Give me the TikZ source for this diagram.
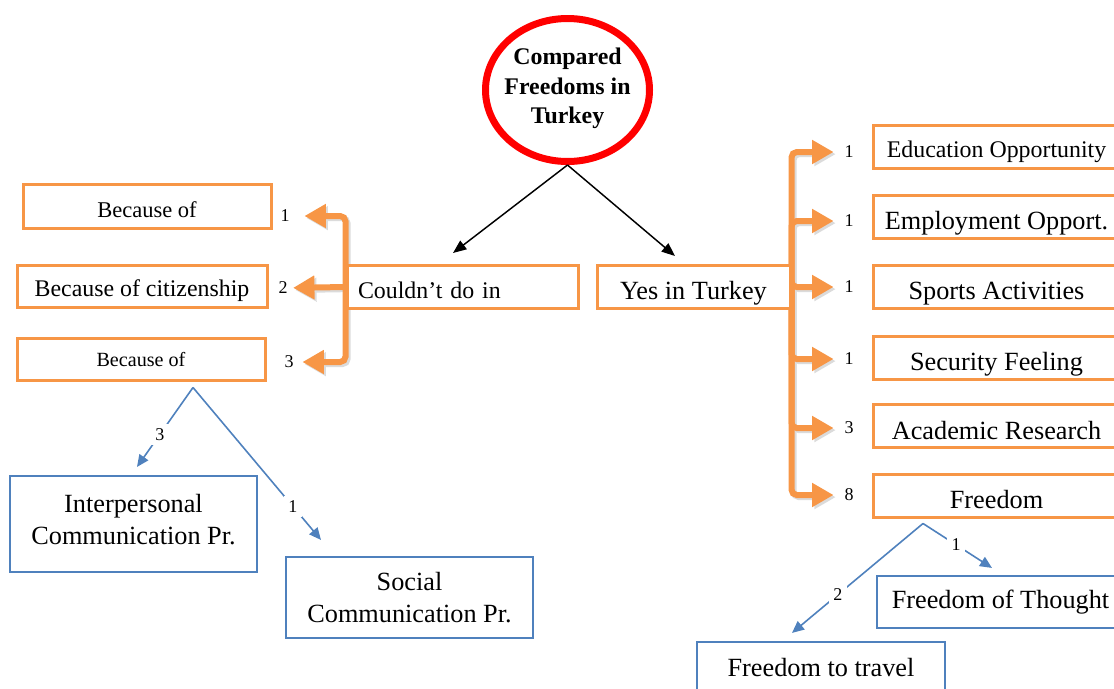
\documentclass[tikz,border=0pt]{standalone}
\usepackage{fontspec}
\setmainfont{Liberation Serif}
\usepackage{xcolor}
\usetikzlibrary{arrows.meta,shapes.geometric,backgrounds}
\definecolor{boxorange}{RGB}{247,150,70}
\definecolor{boxblue}{RGB}{79,129,189}
\definecolor{ringred}{RGB}{255,0,0}
\newcommand{\txtL}{\fontsize{19.7}{24}\selectfont}
\newcommand{\txtM}{\fontsize{17.9}{22}\selectfont}
\newcommand{\txtS}{\fontsize{16.9}{20}\selectfont}
\newcommand{\txtXS}{\fontsize{15.1}{18}\selectfont}
\newcommand{\txtN}{\fontsize{13.5}{16}\selectfont}

\begin{document}
\begin{tikzpicture}[x=0.75pt,y=-0.75pt,
  ring/.style={draw=ringred,line width=5.25pt,ellipse,minimum width=123pt,minimum height=107.25pt,inner sep=0pt},
  obox/.style={draw=boxorange,line width=2.25pt,fill=white,minimum height=32.25pt,inner sep=0pt,text height=#1,text depth=0pt},
  obox/.default=19pt,
  bbox/.style={draw=boxblue,line width=1.6pt,fill=white,align=center,inner sep=0pt,font=\txtL},
  cnt/.style={inner sep=0pt,font=\txtN},
  fat/.style={line width=4.5pt,rounded corners=4pt,-{Triangle[length=16pt,width=17pt]}},
  blk/.style={draw=black,line width=1.1pt,-{Triangle[length=10pt,width=8pt]}},
  blu/.style={draw=boxblue,line width=1.2pt,-{Triangle[length=9pt,width=8pt]}},
  blbl/.style={fill=white,inner sep=3.5pt,font=\txtN}]
  \useasboundingbox (0,0) rectangle (1114,689);
  \clip (0,0) rectangle (1114,689);
  % title ring
  \node[ring] (title) at (567.5,90) {};
  \node[align=center,inner sep=0pt,font=\bfseries\txtM] (titletxt) at (567.5,88.5) {Compared\\Freedoms in\\Turkey};
  % middle boxes
  \node[obox=16.5pt,minimum width=173.25pt,text width=156.75pt,inner xsep=8.25pt,align=left,font=\txtM] (cdi) at (462.5,287) {Couldn't do in};
  \node[obox,minimum width=144.75pt,font=\txtL] (yes) at (693.5,287) {Yes in Turkey};
  % left boxes
  \node[obox=17pt,minimum width=186pt,minimum height=33pt,font=\txtS] (b1) at (147,206) {Because of};
  \node[obox=15pt,minimum width=187.5pt,minimum height=31.5pt,font=\txtM] (b2) at (142,286) {Because of citizenship};
  \node[obox=11.5pt,minimum width=186pt,minimum height=31.5pt,font=\txtXS] (b3) at (141,359) {Because of};
  \node[cnt] (k1) at (285,216) {1};
  \node[cnt] (k2) at (283,288) {2};
  \node[cnt] (k3) at (289,362) {3};
  % right boxes
  \node[obox=17pt,minimum width=185.25pt,font=\txtM] (e1) at (996.5,146.5) {Education Opportunity};
  \node[obox,minimum width=185.25pt,font=\txtL] (e2) at (996.5,217) {Employment Opport.};
  \node[obox,minimum width=185.25pt,font=\txtL] (e3) at (996.5,287) {Sports Activities};
  \node[obox,minimum width=185.25pt,font=\txtL] (e4) at (996.5,357.5) {Security Feeling};
  \node[obox=20pt,minimum width=185.25pt,font=\txtL] (e5) at (996.5,426) {Academic Research};
  \node[obox,minimum width=185.25pt,font=\txtL] (e6) at (996.5,495.5) {Freedom};
  \node[cnt] (r1) at (849,152) {1};
  \node[cnt] (r2) at (849,221) {1};
  \node[cnt] (r3) at (849,287) {1};
  \node[cnt] (r4) at (849,359) {1};
  \node[cnt] (r5) at (849,428) {3};
  \node[cnt] (r6) at (849,495) {8};
  % blue boxes
  \node[bbox,minimum width=185.25pt,minimum height=72pt,text depth=7pt] (ipc) at (133.5,524) {Interpersonal\\Communication Pr.};
  \node[bbox,minimum width=185.25pt,minimum height=60.75pt] (soc) at (409.5,597.5) {Social\\Communication Pr.};
  \node[bbox,minimum width=185.25pt,minimum height=39pt] (fot) at (1000.5,602) {Freedom of Thought};
  \node[bbox,minimum width=186pt,minimum height=39pt] (ftt) at (821,668) {Freedom to travel};
  % title arrows
  \draw[blk] (title.south) -- ([shift={(-9.5,-11)}]cdi.north);
  \draw[blk] (title.south) -- ([shift={(-18.5,-8)}]yes.north);
  % orange connectors behind the boxes, soft shadow first
  \begin{scope}[on background layer]
    \foreach \dx/\col in {1.6/black!14,0/boxorange} {
      \begin{scope}[transform canvas={shift={(\dx pt,-\dx pt)}}]
        \draw[fat,draw=\col,shorten >=11pt] (cdi.west) |- (k1);
        \draw[fat,draw=\col,shorten >=4pt] (cdi.west) -- (k2);
        \draw[fat,draw=\col,shorten >=6.5pt] (cdi.west) |- (k3);
        \foreach \r in {r1,r2,r3,r4,r5,r6}
          \draw[fat,draw=\col,shorten >=8pt] (yes.east) |- (\r);
      \end{scope}}
  \end{scope}
  % blue splits
  \draw[blu] ([shift={(52,6)}]b3.south) -- node[blbl,pos=.59] {3} ([shift={(3.5,-8)}]ipc.north);
  \draw[blu] ([shift={(52,6)}]b3.south) -- node[blbl,pos=.78] {1} ([shift={(-88.5,-16)}]soc.north);
  \draw[blu] ([shift={(-73.5,5)}]e6.south) -- node[blbl,pos=.48] {1} ([shift={(-8.5,-7)}]fot.north);
  \draw[blu] ([shift={(-73.5,5)}]e6.south) -- node[blbl,pos=.65] {2} ([shift={(-29,-8)}]ftt.north);
\end{tikzpicture}
\end{document}
